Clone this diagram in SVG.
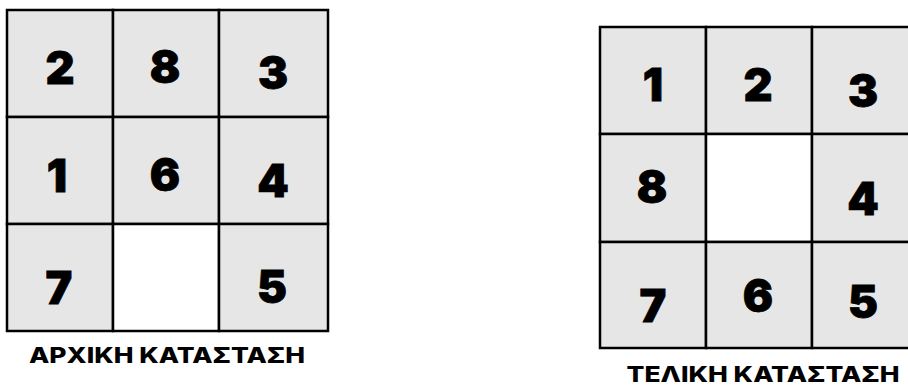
<svg xmlns="http://www.w3.org/2000/svg" width="908" height="389" viewBox="0 0 908 389">
<style>
.cell{fill:#e6e6e6;stroke:#000;stroke-width:2.5}
.empty{fill:#fff;stroke:#000;stroke-width:2.5}
.d{font-family:Inter,"Open Sans","Liberation Sans",sans-serif;font-weight:900;font-size:45px;fill:#000;text-anchor:middle;stroke:#000;stroke-width:0.8}
.lbl{font-family:Inter,"Open Sans","Liberation Sans",sans-serif;font-weight:800;font-size:22px;fill:#000;text-anchor:middle}
</style>
<rect width="908" height="389" fill="#fff"/>
<g id="initial">
<rect class="cell" x="7" y="10" width="106" height="107"/>
<rect class="cell" x="113" y="10" width="106" height="107"/>
<rect class="cell" x="219" y="10" width="109" height="107"/>
<rect class="cell" x="7" y="117" width="106" height="107"/>
<rect class="cell" x="113" y="117" width="106" height="107"/>
<rect class="cell" x="219" y="117" width="109" height="107"/>
<rect class="cell" x="7" y="224" width="106" height="107"/>
<rect class="empty" x="113" y="224" width="106" height="107"/>
<rect class="cell" x="219" y="224" width="109" height="107"/>
<text class="d" x="60" y="84">2</text>
<text class="d" x="165" y="83">8</text>
<text class="d" x="273" y="89">3</text>
<text class="d" x="57" y="192">1</text>
<text class="d" x="165" y="191">6</text>
<text class="d" x="273" y="197">4</text>
<text class="d" x="59" y="304">7</text>
<text class="d" x="272" y="303">5</text>
<text class="lbl" x="167" y="363" textLength="276" lengthAdjust="spacingAndGlyphs">ΑΡΧΙΚΗ ΚΑΤΑΣΤΑΣΗ</text>
</g>
<g id="final">
<rect class="cell" x="600" y="27" width="106" height="107"/>
<rect class="cell" x="706" y="27" width="106" height="107"/>
<rect class="cell" x="812" y="27" width="108" height="107"/>
<rect class="cell" x="600" y="134" width="106" height="108"/>
<rect class="empty" x="706" y="134" width="106" height="108"/>
<rect class="cell" x="812" y="134" width="108" height="108"/>
<rect class="cell" x="600" y="242" width="106" height="106"/>
<rect class="cell" x="706" y="242" width="106" height="106"/>
<rect class="cell" x="812" y="242" width="108" height="106"/>
<text class="d" x="653" y="101">1</text>
<text class="d" x="758" y="101">2</text>
<text class="d" x="863" y="107">3</text>
<text class="d" x="652" y="203">8</text>
<text class="d" x="863" y="215">4</text>
<text class="d" x="653" y="322">7</text>
<text class="d" x="758" y="312">6</text>
<text class="d" x="863" y="318">5</text>
<text class="lbl" x="763" y="382" textLength="273" lengthAdjust="spacingAndGlyphs">ΤΕΛΙΚΗ ΚΑΤΑΣΤΑΣΗ</text>
</g>
<g id="connectors"></g>
</svg>
